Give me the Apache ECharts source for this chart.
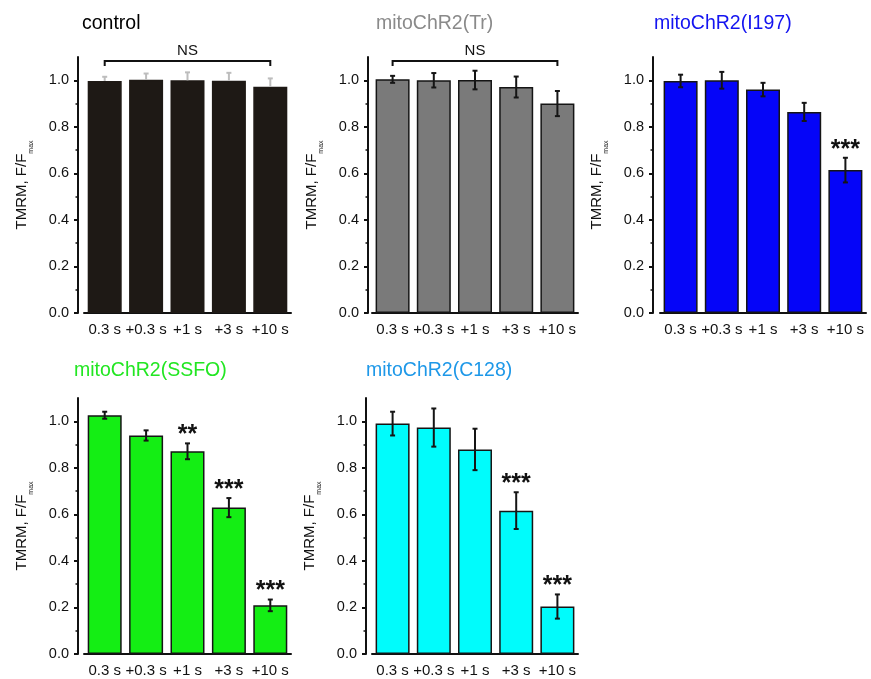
<!DOCTYPE html>
<html>
<head>
<meta charset="utf-8">
<script src="https://cdn.jsdelivr.net/npm/echarts@6/dist/echarts.min.js"></script>
<style>
html,body{margin:0;padding:0;background:#fff;}
#chart{width:871px;height:679px;}
</style>
</head>
<body>
<div id="chart"></div>
<script>
// ---------------- DATA ----------------
const categories = ['0.3 s', '+0.3 s', '+1 s', '+3 s', '+10 s'];
const yTicks = [0, 0.2, 0.4, 0.6, 0.8, 1.0];

const controlMean = [0.997, 1.002, 1.000, 0.998, 0.972];
const controlErr  = [0.018, 0.027, 0.034, 0.034, 0.036];

const trMean = [1.004, 1.000, 1.001, 0.971, 0.900];
const trErr  = [0.015, 0.031, 0.040, 0.045, 0.054];

const i197Mean = [0.997, 1.000, 0.960, 0.864, 0.614];
const i197Err  = [0.027, 0.036, 0.029, 0.039, 0.053];
const i197Sig  = ['', '', '', '', '***'];

const ssfoMean = [1.026, 0.939, 0.871, 0.629, 0.209];
const ssfoErr  = [0.015, 0.022, 0.034, 0.041, 0.025];
const ssfoSig  = ['', '', '**', '***', '***'];

const c128Mean = [0.990, 0.973, 0.879, 0.616, 0.204];
const c128Err  = [0.051, 0.082, 0.089, 0.079, 0.052];
const c128Sig  = ['', '', '', '***', '***'];

const noSig = ['', '', '', '', ''];

const titles = ['control', 'mitoChR2(Tr)', 'mitoChR2(I197)', 'mitoChR2(SSFO)', 'mitoChR2(C128)'];
const nsLabel = 'NS';
const nsFrom = 0, nsTo = 4, nsLevel = 1.083;

// ---------------- STYLE / LAYOUT ----------------
const FONT = 'Liberation Sans, Arial, Helvetica, sans-serif';
const panels = [
  {mean: controlMean, err: controlErr, sig: noSig, ns: true,  upperOnly: true,
   color: '#1e1915', border: '#1e1915', errColor: '#bdbdbd', titleColor: '#000000',
   grid: {left: 84, top: 57, width: 207, height: 256}, offset: 6, title: {left: 82, top: 14}},
  {mean: trMean, err: trErr, sig: noSig, ns: true, upperOnly: false,
   color: '#7a7a7a', border: '#151515', errColor: '#151515', titleColor: '#8a8a8a',
   grid: {left: 372, top: 57, width: 206, height: 256}, offset: 4, title: {left: 376, top: 14}},
  {mean: i197Mean, err: i197Err, sig: i197Sig, ns: false, upperOnly: false,
   color: '#0505f8', border: '#151515', errColor: '#151515', titleColor: '#1414f0',
   grid: {left: 660, top: 57, width: 206, height: 256}, offset: 7, title: {left: 654, top: 14}},
  {mean: ssfoMean, err: ssfoErr, sig: ssfoSig, ns: false, upperOnly: false,
   color: '#14ee14', border: '#151515', errColor: '#151515', titleColor: '#22e622',
   grid: {left: 84, top: 398, width: 207, height: 256}, offset: 6, title: {left: 74, top: 361}},
  {mean: c128Mean, err: c128Err, sig: c128Sig, ns: false, upperOnly: false,
   color: '#00fcfc', border: '#151515', errColor: '#151515', titleColor: '#1e98e8',
   grid: {left: 372, top: 398, width: 206, height: 256}, offset: 6, title: {left: 366, top: 361}}
];

const option = {
  animation: false,
  backgroundColor: '#ffffff',
  title: [], grid: [], xAxis: [], yAxis: [], series: []
};

panels.forEach(function (p, k) {
  option.title.push({
    text: titles[k], left: p.title.left, top: p.title.top, padding: 0,
    textStyle: {fontFamily: FONT, fontSize: 19.5, fontWeight: 'normal', color: p.titleColor}
  });
  option.grid.push(Object.assign({containLabel: false}, p.grid));
  option.xAxis.push({
    type: 'category', gridIndex: k, data: categories,
    axisLine: {show: true, lineStyle: {color: '#111', width: 2}},
    axisTick: {show: false},
    axisLabel: {fontFamily: FONT, fontSize: 15, color: '#111', margin: 9, interval: 0},
    splitLine: {show: false}
  });
  option.yAxis.push({
    type: 'value', gridIndex: k, min: 0, max: 1.1, interval: 0.2, offset: p.offset,
    name: '{a|TMRM, F/F}{b|max}', nameLocation: 'middle', nameGap: 47,
    nameTextStyle: {
      rich: {
        a: {fontFamily: FONT, fontSize: 15, color: '#111', lineHeight: 18},
        b: {fontFamily: FONT, fontSize: 7, color: '#111', lineHeight: 18, verticalAlign: 'bottom', padding: [0, 0, -4, 0]}
      }
    },
    axisLine: {show: true, lineStyle: {color: '#111', width: 2}},
    axisTick: {show: true, length: 4, customValues: yTicks, lineStyle: {color: '#111', width: 2}},
    minorTick: {show: true, splitNumber: 2, length: 2.5, lineStyle: {color: '#111', width: 1.5}},
    axisLabel: {customValues: yTicks, fontFamily: FONT, fontSize: 14.5, color: '#111', margin: 9,
      formatter: function (v) { return v.toFixed(1); }},
    splitLine: {show: false}
  });
  option.series.push({
    type: 'bar', xAxisIndex: k, yAxisIndex: k, data: p.mean, barWidth: 34,
    itemStyle: {color: p.color, borderColor: p.border, borderWidth: 1.5},
    z: 2
  });
  // error bars and significance stars
  option.series.push({
    type: 'custom', xAxisIndex: k, yAxisIndex: k, z: 5, clip: false,
    data: p.mean.map(function (m, i) { return [i, m, p.err[i]]; }),
    renderItem: function (params, api) {
      const i = api.value(0), m = api.value(1), e = api.value(2);
      const top = api.coord([i, m + e]);
      const bot = api.coord([i, p.upperOnly ? m : m - e]);
      const cap = 2.5;
      const st = {stroke: p.errColor, lineWidth: 2};
      const children = [
        {type: 'line', shape: {x1: top[0], y1: top[1], x2: bot[0], y2: bot[1]}, style: st},
        {type: 'line', shape: {x1: top[0] - cap, y1: top[1], x2: top[0] + cap, y2: top[1]}, style: st}
      ];
      if (!p.upperOnly) {
        children.push({type: 'line', shape: {x1: bot[0] - cap, y1: bot[1], x2: bot[0] + cap, y2: bot[1]}, style: st});
      }
      const s = p.sig[params.dataIndex];
      if (s) {
        children.push({type: 'text', style: {text: s, x: top[0], y: top[1] - 8,
          textAlign: 'center', textVerticalAlign: 'middle',
          font: 'bold 25px ' + FONT, fill: '#111'}});
      }
      return {type: 'group', children: children};
    }
  });
  if (p.ns) {
    option.series.push({
      type: 'custom', xAxisIndex: k, yAxisIndex: k, z: 5, clip: false,
      data: [[nsFrom, nsTo, nsLevel]],
      renderItem: function (params, api) {
        const a = api.coord([api.value(0), api.value(2)]);
        const b = api.coord([api.value(1), api.value(2)]);
        const st = {stroke: '#111', lineWidth: 2, fill: null};
        return {type: 'group', children: [
          {type: 'polyline', shape: {points: [[a[0], a[1] + 5], [a[0], a[1]], [b[0], a[1]], [b[0], a[1] + 5]]}, style: st},
          {type: 'text', style: {text: nsLabel, x: (a[0] + b[0]) / 2, y: a[1] - 10,
            textAlign: 'center', textVerticalAlign: 'middle', font: '15px ' + FONT, fill: '#111'}}
        ]};
      }
    });
  }
});

const chart = echarts.init(document.getElementById('chart'), null, {renderer: 'canvas'});
chart.setOption(option);
</script>
</body>
</html>
